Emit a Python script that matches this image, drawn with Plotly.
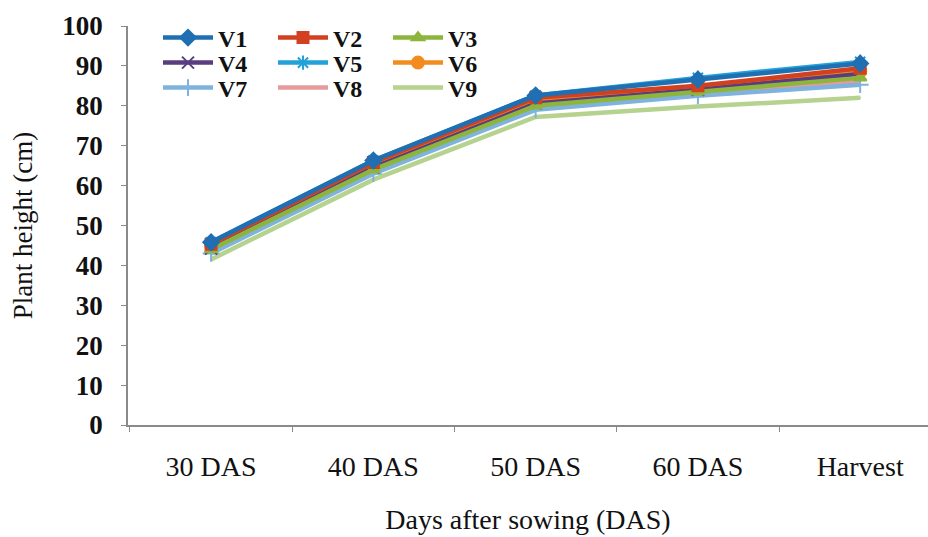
import plotly.graph_objects as go

categories = ["30 DAS", "40 DAS", "50 DAS", "60 DAS", "Harvest"]
series_names = ["V1", "V2", "V3", "V4", "V5", "V6", "V7", "V8", "V9"]
V1 = [45.8, 66.3, 82.6, 86.6, 90.6]
V2 = [45.3, 65.8, 82.0, 85.0, 89.4]
V3 = [44.0, 64.0, 80.0, 83.5, 87.0]
V4 = [44.2, 64.5, 80.6, 84.0, 88.0]
V5 = [45.8, 66.3, 82.6, 87.0, 91.0]
V6 = [45.0, 65.0, 81.0, 84.3, 88.6]
V7 = [43.0, 63.0, 79.0, 82.5, 85.3]
V8 = [43.4, 63.4, 79.3, 83.0, 86.0]
V9 = [41.5, 61.5, 77.2, 79.8, 82.0]
values = [V1, V2, V3, V4, V5, V6, V7, V8, V9]

colors = ["#1F6FB2", "#D2401F", "#8DB53B", "#5A3D7E", "#23A2DA",
          "#F28C1E", "#7FB3DE", "#E59B9B", "#B5D28E"]
symbols = ["diamond", "square", "triangle-up", "x-thin-open", "asterisk-open",
           "circle", "cross-thin-open", "line-ew-open", "line-ew-open"]
sizes = [12, 11, 11, 12, 12, 12, 12, 1, 1]
legend_ids = ["legend", "legend", "legend", "legend2", "legend2", "legend2",
              "legend3", "legend3", "legend3"]

fig = go.Figure()
# draw in reverse so V1 is on top
order = list(range(9))[::-1]
for i in order:
    fig.add_trace(go.Scatter(
        x=categories, y=values[i], name=series_names[i],
        mode="lines+markers",
        line=dict(color=colors[i], width=4.5),
        marker=dict(symbol=symbols[i], size=sizes[i], color=colors[i],
                    line=dict(color=colors[i], width=2)),
        legend=legend_ids[i],
        legendrank=i,
    ))

font = "Liberation Serif, Times New Roman, serif"
leg_common = dict(orientation="h", x=0.0375, xanchor="left", yanchor="middle",
                  bgcolor="rgba(0,0,0,0)", itemwidth=50, entrywidth=50,
                  entrywidthmode="pixels", traceorder="normal",
                  font=dict(family=font, size=24, color="#111", weight="bold"),
                  itemclick=False)

fig.update_layout(
    width=928, height=537,
    margin=dict(l=128, r=0, t=26, b=112),
    paper_bgcolor="white", plot_bgcolor="white",
    showlegend=True,
    legend=dict(**leg_common, y=1 - (38 - 26) / 399),
    legend2=dict(**leg_common, y=1 - (63 - 26) / 399),
    legend3=dict(**leg_common, y=1 - (88 - 26) / 399),
    font=dict(family=font, color="#111"),
    xaxis=dict(
        range=[-0.512, 4.418], showgrid=False, zeroline=False,
        showline=True, linecolor="#8a8a8a", linewidth=1.5,
        ticks="outside", tickson="boundaries", ticklen=5, tickcolor="#8a8a8a",
        tickfont=dict(family=font, size=28, color="#111"),
        ticklabelstandoff=16,
        title=dict(text="Days after sowing (DAS)", standoff=28,
                   font=dict(family=font, size=28, color="#111")),
    ),
    yaxis=dict(
        range=[0, 100], dtick=10, showgrid=False, zeroline=False,
        showline=True, linecolor="#8a8a8a", linewidth=1.5,
        ticks="outside", ticklen=5, tickcolor="#8a8a8a",
        tickfont=dict(family=font, size=27, color="#111", weight="bold"),
        ticklabelstandoff=13,
        title=dict(text="Plant height (cm)", standoff=22,
                   font=dict(family=font, size=27, color="#111")),
    ),
)

fig.write_html("out.html")
